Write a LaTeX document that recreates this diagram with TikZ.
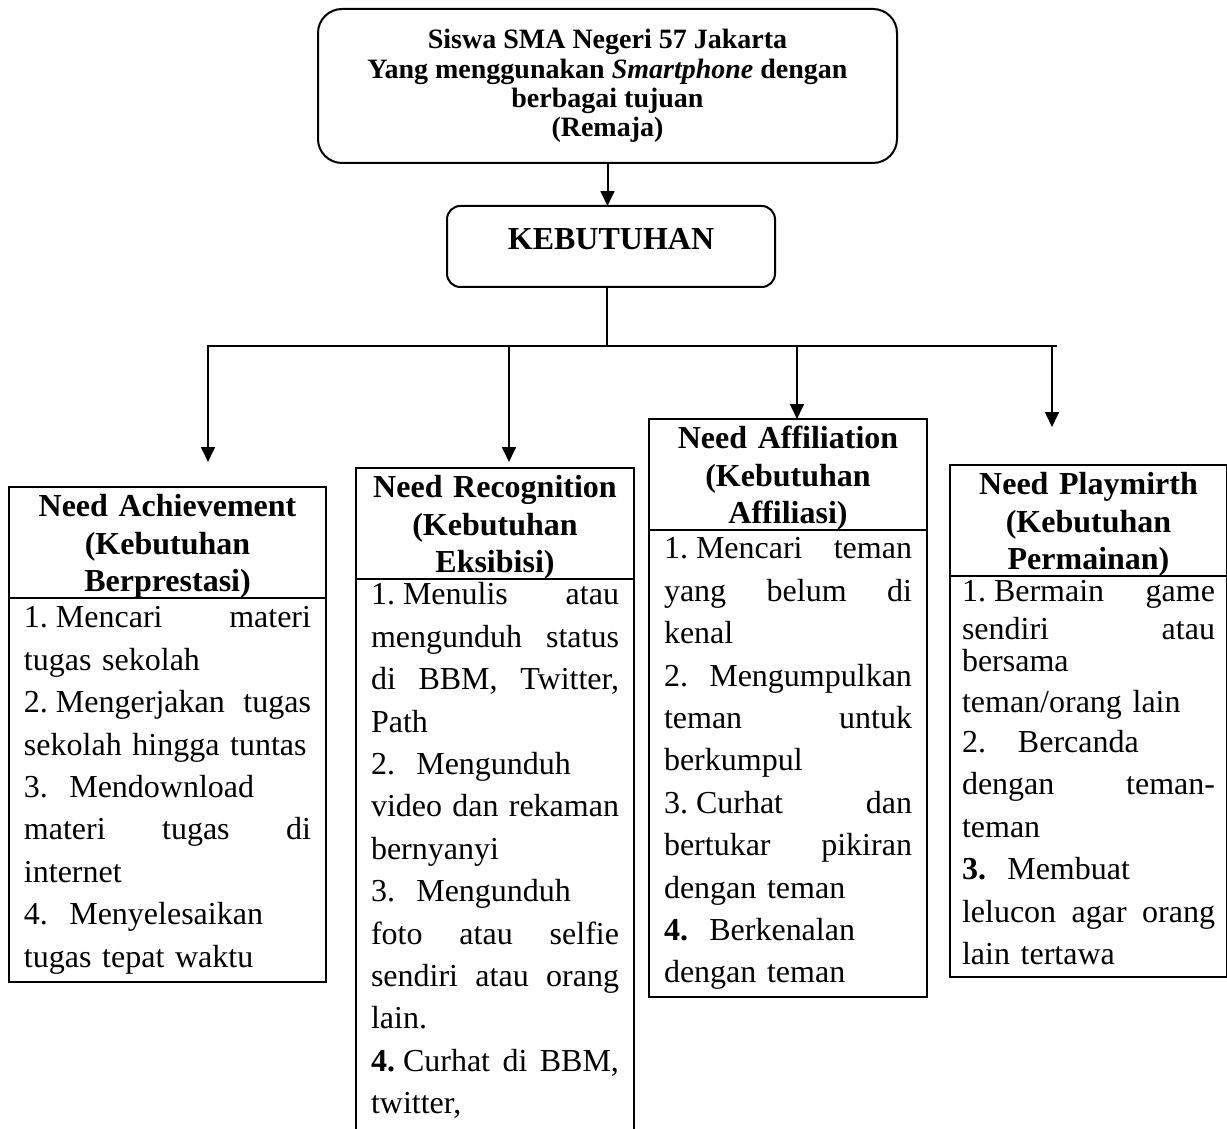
\documentclass[tikz,border=0pt]{standalone}
\usepackage{fontspec}
\setmainfont{Liberation Serif}
\usetikzlibrary{arrows.meta,positioning}
\newdimen\px \px=0.375pt
\newcommand{\jline}[1]{{\spaceskip=0.25em plus 1fill\xspaceskip=\spaceskip #1}}
\newcommand{\num}[1]{#1\hspace{0.25em}}
\tikzset{
  conn/.style={line width=0.75pt},
  arr/.style={conn, -{Triangle[length=5.6pt,width=5.2pt]}},
  topbox/.style={draw, line width=0.75pt, rounded corners=9pt, outer sep=0pt, inner sep=0pt, align=center, font=\fontsize{10.5}{11}\selectfont\bfseries},
  kebbox/.style={draw, line width=0.75pt, rounded corners=5pt, outer sep=0pt, inner sep=0pt, font=\fontsize{12}{14}\selectfont\bfseries},
  headbox/.style={draw, line width=0.75pt, anchor=north, outer sep=0pt, inner ysep=0pt, inner xsep=4\px, align=center, text height=30\px, text depth=81\px, font=\fontsize{12}{13.9}\selectfont\bfseries},
  itembox/.style={draw, line width=0.75pt, outer sep=0pt, inner ysep=0pt, inner xsep=15\px, align=left, font=\fontsize{12}{15.9}\selectfont}
}
\begin{document}
\begin{tikzpicture}[x=0.375pt, y=-0.375pt]
\useasboundingbox (0,0) rectangle (1227,1129);

\node[topbox, minimum width=579\px, minimum height=154\px] (top) at (607.5,86)
  {Siswa SMA Negeri 57 Jakarta\\Yang menggunakan \textit{Smartphone} dengan\\berbagai tujuan\\(Remaja)};
\node[kebbox, minimum width=328\px, text height=44\px, text depth=37\px] (keb) at (611,246.5) {KEBUTUHAN};

\node[headbox, text width=309\px] (achH) at (167.5,487) {Need Achievement\\(Kebutuhan\\Berprestasi)};
\node[itembox, below=0pt of achH, text width=287\px, text height=30\px, text depth=354\px] (achB) {%
\jline{\num{1.}Mencari materi}\\
tugas sekolah\\
\jline{\num{2.}Mengerjakan tugas}\\
sekolah hingga tuntas\\
3.~~Mendownload\\
\jline{materi tugas di}\\
internet\\
4.~~Menyelesaikan\\
tugas tepat waktu};

\node[headbox, text width=270\px] (recH) at (495,468) {Need Recognition\\(Kebutuhan\\Eksibisi)};
\node[itembox, below=0pt of recH, text width=248\px, text height=26\px, text depth=600\px] (recB) {%
\jline{\num{1.}Menulis atau}\\
\jline{mengunduh status}\\
\jline{di BBM, Twitter,}\\
Path\\
2.~~Mengunduh\\
\jline{video dan rekaman}\\
bernyanyi\\
3.~~Mengunduh\\
\jline{foto atau selfie}\\
\jline{sendiri atau orang}\\
lain.\\
\jline{\num{\textbf{4.}}Curhat di BBM,}\\
twitter,};

\node[headbox, text width=270\px] (affH) at (788,419) {Need Affiliation\\(Kebutuhan\\Affiliasi)};
\node[itembox, below=0pt of affH, text width=248\px, text height=29\px, text depth=438\px] (affB) {%
\jline{\num{1.}Mencari teman}\\
\jline{yang belum di}\\
kenal\\
2.~~Mengumpulkan\\
\jline{teman untuk}\\
berkumpul\\
\jline{\num{3.}Curhat dan}\\
\jline{bertukar pikiran}\\
dengan teman\\
\textbf{4.}~~Berkenalan\\
dengan teman};

\node[headbox, text width=269\px] (playH) at (1088.5,465) {Need Playmirth\\(Kebutuhan\\Permainan)};
\node[itembox, below=0pt of playH, text width=253\px, inner xsep=12\px, text height=26\px, text depth=375\px] (playB) {%
\jline{\num{1.}Bermain game}\\[-1.9pt]
\jline{sendiri atau}\\[-3.75pt]
bersama\\[-0.75pt]
teman/orang lain\\[-0.75pt]
2.~~~Bercanda\\
\jline{dengan teman-}\\
teman\\
\textbf{3.}~~Membuat\\
\jline{lelucon agar orang}\\
lain tertawa};

\coordinate (hub) at (607,346);
\coordinate (barR) at (1057,346);
\coordinate (dA) at (208,346);
\coordinate (dB) at (509,346);
\coordinate (dC) at (797,346);
\coordinate (dD) at (1052,346);
\coordinate (tipA) at (208,462);
\coordinate (tipB) at (509,462);
\coordinate (tipD) at (1052,427);

\draw[arr] (top.south) -- (top.south |- keb.north);
\draw[conn] (keb.south -| hub) -- (hub);
\draw[arr] (barR) -- (dA) -- (tipA);
\foreach \d/\t in {dB/tipB,dD/tipD}
{
	\draw[arr] (\d) -- (\t);
}
\draw[arr] (dC) -- (dC |- affH.north);
\end{tikzpicture}
\end{document}
